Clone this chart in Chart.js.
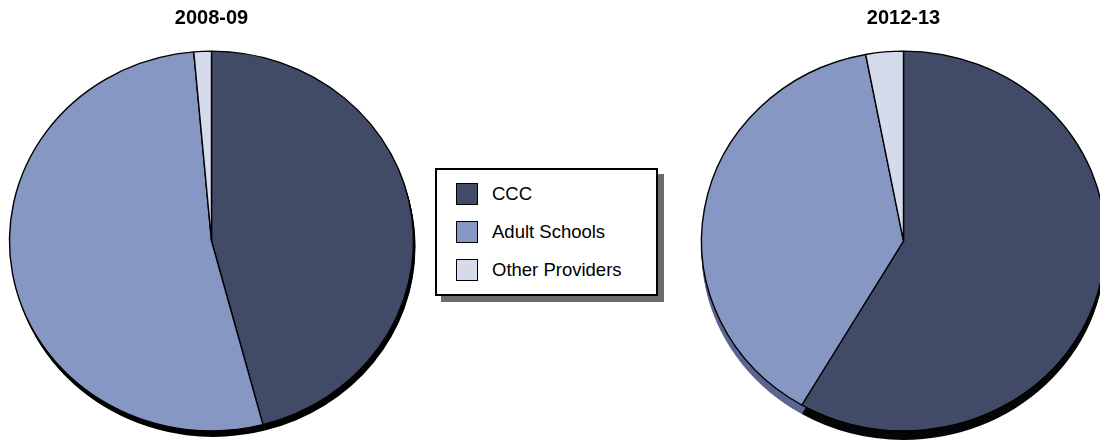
<!DOCTYPE html>
<html>
<head>
<meta charset="utf-8">
<script src="https://cdn.jsdelivr.net/npm/chart.js@4.4.1/dist/chart.umd.min.js"></script>
<style>
    html, body { margin: 0; padding: 0; background: #fff; overflow: hidden; }
    body { position: relative; width: 1100px; height: 441px; font-family: "Liberation Sans", Arial, sans-serif; }
    .pie { position: absolute; top: 0; width: 423px; height: 441px; }
    #legend {
        position: absolute; left: 435px; top: 168px; width: 219px; height: 124px;
        border: 2px solid #000; background: #fff; box-shadow: 6px 6px 0 #6b6b6b;
    }
    .item { position: absolute; left: 19px; height: 22px; font-size: 18.5px; line-height: 22px; color: #000; white-space: nowrap; }
    .item span { position: absolute; left: 0; top: 0; width: 20px; height: 20px; border: 1px solid #000; }
    .item b { position: absolute; left: 36px; top: 0; font-weight: normal; }
</style>
</head>
<body>
<div class="pie" style="left:0"><canvas id="pie-0809"></canvas></div>
<div class="pie" style="left:692px"><canvas id="pie-1213"></canvas></div>
<div id="legend"></div>

<script>
var providers = ['CCC', 'Adult Schools', 'Other Providers'];
var share0809 = [45.9, 52.7, 1.4];
var share1213 = [58.4, 38.6, 3.0];
var colors = ['#414a66', '#8797c3', '#d5dbea'];

// squash the pie into a slight ellipse and draw its side wall underneath
const pieDepth = {
    id: 'pieDepth',
    beforeDatasetsDraw(chart, args, opts) {
        const arcs = chart.getDatasetMeta(0).data;
        if (!arcs.length) return;
        const ctx = chart.ctx;
        const cx = arcs[0].x, cy = arcs[0].y;
        ctx.save();
        ctx.translate(cx, cy);
        ctx.scale(1, opts.squash);
        ctx.translate(-cx, -cy);
        for (let d = 1; d <= opts.depth; d++) {
            arcs.forEach((arc, i) => {
                const p = arc.getProps(['startAngle', 'endAngle', 'outerRadius']);
                const x = cx + opts.shift * d / opts.depth;
                const y = cy + d / opts.squash;
                ctx.beginPath();
                ctx.moveTo(x, y);
                ctx.arc(x, y, p.outerRadius, p.startAngle, p.endAngle);
                ctx.closePath();
                ctx.fillStyle = opts.sides[i];
                ctx.fill();
            });
        }
    },
    afterDatasetsDraw(chart) {
        chart.ctx.restore();
    }
};

function pieChart(id, title, values, sides, depth, shift) {
    const ctx = document.getElementById(id);
    return new Chart(ctx, {
        type: 'pie',
        data: {
            labels: providers,
            datasets: [{
                data: values,
                backgroundColor: colors,
                borderColor: '#000',
                borderWidth: 1.4,
                radius: 202
            }]
        },
        options: {
            responsive: true,
            maintainAspectRatio: false,
            animation: false,
            events: [],
            layout: { padding: 0 },
            plugins: {
                legend: { display: false },
                tooltip: { enabled: false },
                title: {
                    display: true,
                    text: title,
                    color: '#000',
                    font: { family: '"Liberation Sans", Arial, sans-serif', size: 20, weight: 'bold' },
                    padding: { top: 6, bottom: 11 }
                },
                pieDepth: { squash: 0.94, depth: depth, shift: shift, sides: sides }
            }
        },
        plugins: [pieDepth]
    });
}

pieChart('pie-0809', '2008-09', share0809, ['#000', '#000', '#000'], 6, 2);
pieChart('pie-1213', '2012-13', share1213, ['#050508', '#5a6590', '#9aa0b0'], 9, 0);

// legend box built from the same labels and colours
var legend = document.getElementById('legend');
providers.forEach(function (name, i) {
    var row = document.createElement('div');
    row.className = 'item';
    row.style.top = (13 + i * 38) + 'px';
    row.innerHTML = '<span style="background:' + colors[i] + '"></span><b>' + name + '</b>';
    legend.appendChild(row);
});
</script>
</body>
</html>
